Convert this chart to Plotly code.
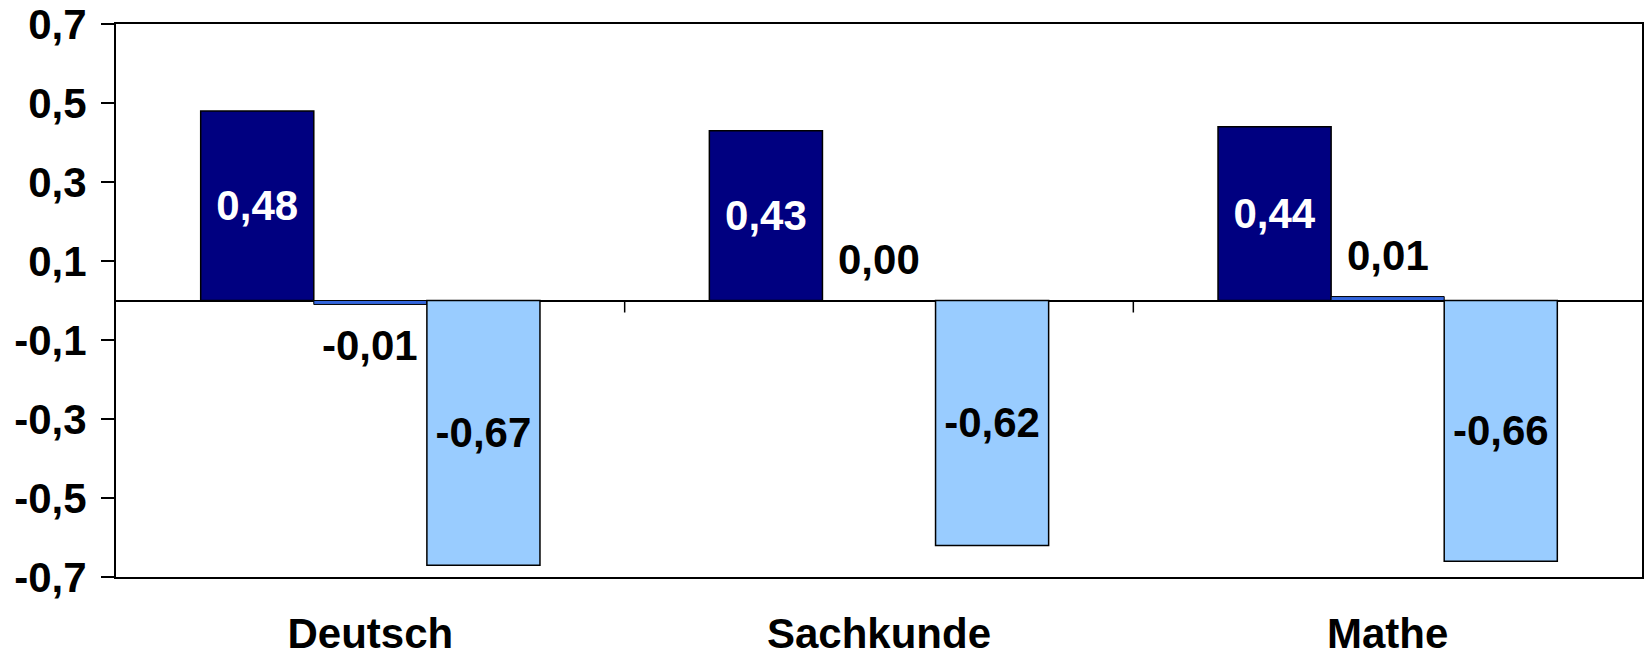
import plotly.graph_objects as go

# Data
categories = ['Deutsch', 'Sachkunde', 'Mathe']
series_a = [0.48, 0.43, 0.44]
series_b = [-0.01, 0.00, 0.01]
series_c = [-0.67, -0.62, -0.66]
y_ticks = [0.7, 0.5, 0.3, 0.1, -0.1, -0.3, -0.5, -0.7]
y_tick_labels = ['0,7', '0,5', '0,3', '0,1', '-0,1', '-0,3', '-0,5', '-0,7']

COLORS = {
    'a': '#000080',
    'b': '#3366DD',
    'c': '#99CCFF',
    'text': '#000000',
}
FONT = 'Arial, "Liberation Sans", sans-serif'


def fmt(v):
    return f'{v:.2f}'.replace('.', ',')


fig = go.Figure()

fig.add_trace(go.Bar(
    x=categories, y=series_a,
    marker=dict(color=COLORS['a'], line=dict(color='black', width=1.5)),
    text=[fmt(v) for v in series_a],
    textposition='inside', insidetextanchor='middle',
    textfont=dict(color='white', size=42, family=FONT, weight='bold'),
))
fig.add_trace(go.Bar(
    x=categories, y=series_b,
    marker=dict(color=COLORS['b'], line=dict(color='black', width=1)),
))
fig.add_trace(go.Bar(
    x=categories, y=series_c,
    marker=dict(color=COLORS['c'], line=dict(color='black', width=1.5)),
    text=[fmt(v) for v in series_c],
    textposition='inside', insidetextanchor='middle',
    textfont=dict(color='black', size=42, family=FONT, weight='bold'),
))

# labels of the thin middle bars sit just beyond the bar end
for cat, v in zip(categories, series_b):
    fig.add_annotation(
        x=cat, y=v, text=fmt(v), showarrow=False,
        yanchor='middle', yshift=41 if v >= 0 else -41,
        font=dict(color='black', size=42, family=FONT, weight='bold'),
    )

# small tick marks on the zero line between the categories
for i in range(len(categories) - 1):
    fig.add_shape(
        type='line', xref='x', yref='y',
        x0=i + 0.5, x1=i + 0.5,
        ysizemode='pixel', yanchor=0, y0=0, y1=-12,
        line=dict(color='black', width=1.5),
    )

fig.update_layout(
    width=1647, height=654,
    paper_bgcolor='white', plot_bgcolor='white',
    font=dict(family=FONT, color=COLORS['text'], size=40, weight='bold'),
    margin=dict(l=116, r=5, t=24, b=77),
    barmode='group', bargap=0.333, bargroupgap=0,
    showlegend=False,
)
fig.update_xaxes(
    showline=True, linecolor='black', linewidth=2, mirror=True,
    ticks='', showgrid=False, automargin=False,
    tickfont=dict(size=42, family=FONT, weight='bold'),
    ticklabelstandoff=19,
)
fig.update_yaxes(
    range=[-0.7, 0.7], tickvals=y_ticks, ticktext=y_tick_labels,
    showline=True, linecolor='black', linewidth=2, mirror=True,
    ticks='outside', ticklen=13, tickwidth=1.5, tickcolor='black',
    showgrid=False, zeroline=True, zerolinecolor='black', zerolinewidth=1.5,
    automargin=False,
    tickfont=dict(size=42, family=FONT, weight='bold'),
    ticklabelstandoff=6,
)

# drop the default 8px body margin so the figure fills the window
fig.write_html(
    'out.html',
    config={'displayModeBar': False},
    post_script="document.body.style.margin='0';",
)
